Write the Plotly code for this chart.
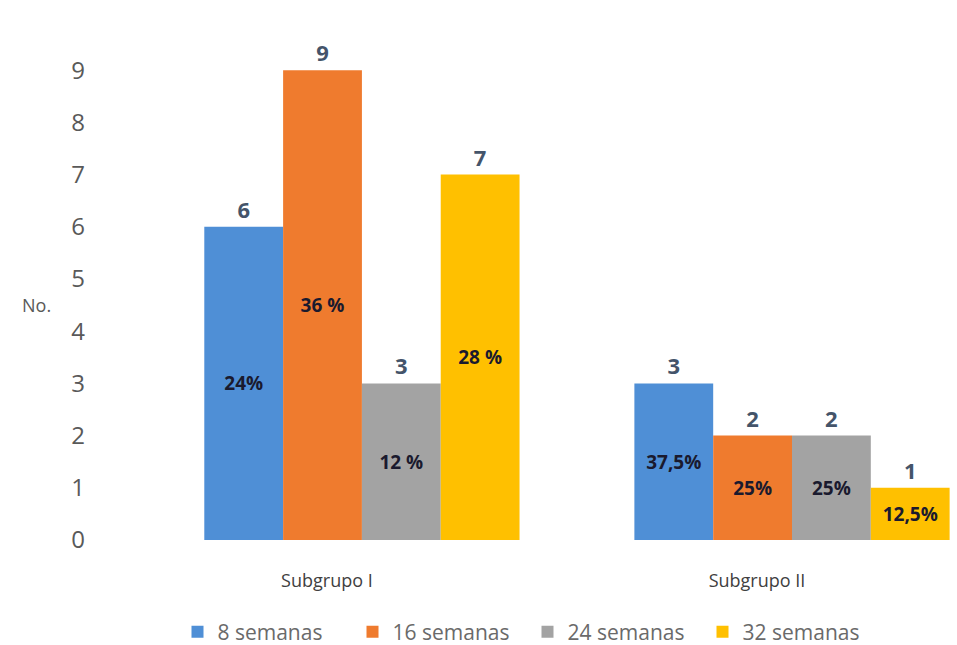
import plotly.graph_objects as go

categories = ["Subgrupo I", "Subgrupo II"]
series_names = ["8 semanas", "16 semanas", "24 semanas", "32 semanas"]
values = {
    "8 semanas": [6, 3],
    "16 semanas": [9, 2],
    "24 semanas": [3, 2],
    "32 semanas": [7, 1],
}
pct_labels = {
    "8 semanas": ["24%", "37,5%"],
    "16 semanas": ["36 %", "25%"],
    "24 semanas": ["12 %", "25%"],
    "32 semanas": ["28 %", "12,5%"],
}
colors = ["#4F8FD6", "#EF7B2E", "#A3A3A3", "#FFC000"]
y_ticks = list(range(0, 10))

FONT = "Open Sans, Noto Sans, sans-serif"

fig = go.Figure()
for name, col in zip(series_names, colors):
    fig.add_trace(go.Bar(
        name=name, x=categories, y=values[name], offsetgroup=name,
        marker=dict(color=col, line=dict(width=0)),
        text=[str(v) for v in values[name]], textposition="outside",
        texttemplate="<b>%{text}</b>",
        textfont=dict(family=FONT, size=22, color="#44546A"),
        cliponaxis=False,
    ))
    fig.add_trace(go.Bar(
        name=name, x=categories, y=values[name], offsetgroup=name,
        marker=dict(color="rgba(0,0,0,0)", line=dict(width=0)),
        text=pct_labels[name], textposition="inside", insidetextanchor="middle",
        textfont=dict(family=FONT, size=19, color="#1A1A2E"),
        texttemplate="<b>%{text}</b>", showlegend=False, hoverinfo="skip",
    ))

fig.update_layout(
    width=957, height=645,
    margin=dict(l=100, r=2, t=18, b=105, autoexpand=False),
    paper_bgcolor="white", plot_bgcolor="white",
    barmode="group", bargap=0.267, bargroupgap=0,
    font=dict(family=FONT, color="#595959"),
    xaxis=dict(
        type="category", range=[-0.609, 1.379], showgrid=False, showline=False,
        ticks="", tickfont=dict(family=FONT, size=18, color="#404040"),
        ticklabelshift=-35, ticklabelstandoff=28, automargin=False,
    ),
    yaxis=dict(
        range=[0, 10], tickvals=y_ticks, showgrid=False, showline=False,
        zeroline=False, ticks="", tickfont=dict(family=FONT, size=24, color="#595959"),
        ticklabelstandoff=14, automargin=False,
    ),
    legend=dict(
        orientation="h", x=0.5, xanchor="center",
        yref="container", y=0.02, yanchor="middle",
        font=dict(family=FONT, size=21, color="#6A6A6A"),
        itemwidth=30, traceorder="normal", entrywidth=130,
    ),
    annotations=[dict(
        text="No.", xref="paper", yref="paper", x=-0.055, y=0.45, xanchor="right",
        showarrow=False, font=dict(family=FONT, size=18, color="#595959"),
    )],
)

fig.write_html("out.html")
